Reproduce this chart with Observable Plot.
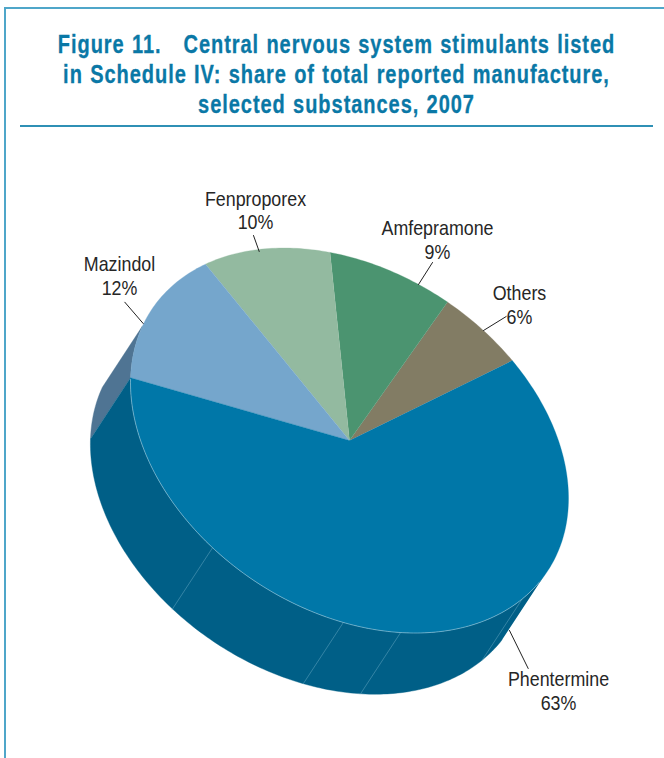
<!DOCTYPE html>
<html>
<head>
<meta charset="utf-8">
<script src="https://cdn.jsdelivr.net/npm/d3@7"></script>
<script src="https://cdn.jsdelivr.net/npm/@observablehq/plot@0.6"></script>
<style>
  html, body { margin: 0; padding: 0; background: #fff; overflow: hidden; }
  #page { position: relative; width: 664px; height: 758px; overflow: hidden; }
  #frame { position: absolute; left: 4px; top: 7px; right: 0; bottom: 0;
           border-left: 2px solid #4fa6c9; border-top: 2px solid #4fa6c9; box-sizing: border-box; }
  #head { position: absolute; left: 20px; top: 0; width: 633px; height: 127px;
          border-bottom: 2px solid #2f90b5; box-sizing: border-box; }
  #title { position: absolute; left: -60px; right: -60px; top: 28.5px; text-align: center; margin: 0;
           font: bold 25px/30px "Liberation Sans", sans-serif;
           letter-spacing: 1.2px; word-spacing: 1px; color: #0a78a6; white-space: nowrap;
           -webkit-text-stroke: 0.3px #0a78a6;
           transform: scaleX(0.8); transform-origin: 50% 50%; }
  #chart { position: absolute; left: 0; top: 128px; }
  #chart svg { display: block; }
</style>
</head>
<body>
<div id="page">
  <div id="frame"></div>
  <div id="head"><h1 id="title">Figure 11.&nbsp;&nbsp; Central nervous system stimulants listed<br>in Schedule IV: share of total reported manufacture,<br>selected substances, 2007</h1></div>
  <div id="chart"></div>
</div>
<script>
// Categories, going round the disc from the Others/Phentermine edge
const names = ["Others", "Amfepramone", "Fenproporex", "Mazindol", "Phentermine"];
// Printed shares (labels)
const labelShares = [6, 9, 10, 12, 63];
// Slice sizes as measured on the drawing (the 3-D projection widens Mazindol)
const drawnShares = [5.95, 8.8, 10, 13.15, 62.1];
const topColors = ["#827c64", "#4b9470", "#93baa0", "#75a6cc", "#0077a8"];
const wallColors = ["#6b664f", "#3a7a5b", "#7a9e87", "#4f7493", "#005f87"];
// Angles of the faint seams on the wall (degrees round the disc)
const seamAngles = [128.7, 91.6, 76.5, 37.9];

// Projection of the tilted disc into unit coordinates
const startAngle = -42, tiltC = 0.3, tiltS = 0.954, wallX = -0.183, wallY = 0.318;
// Stretch of the disc edge whose wall faces the viewer
const frontFrom = 28.4, frontTo = 199;
const rim = (deg, k = 0) => {
  const a = deg * Math.PI / 180;
  return {px: Math.cos(a) + k * wallX, py: tiltC * Math.cos(a) + tiltS * Math.sin(a) + k * wallY};
};
let cum = startAngle;
const slices = names.map((name, i) => {
  const a0 = cum; cum -= drawnShares[i] * 3.6;
  return {name, a0, a1: cum, i};
});
const arc = (a0, a1, k) => {
  const n = Math.max(2, Math.ceil(Math.abs(a1 - a0)));
  return d3.range(n + 1).map(j => rim(a0 + (a1 - a0) * j / n, k));
};
const topPts = slices.flatMap(s => [{px: 0, py: 0}, ...arc(s.a0, s.a1, 0)]
  .map(p => ({...p, key: s.name})));
// The wall of each slice, limited to the front-facing stretch of the edge
const wallPts = slices.flatMap(s => {
  const lo = Math.max(s.a1 + 360, frontFrom), hi = Math.min(s.a0 + 360, frontTo);
  if (lo >= hi) return [];
  return [...arc(lo, hi, 0), ...arc(hi, lo, 1)].map(p => ({...p, key: s.name + " wall"}));
});
const seams = seamAngles.flatMap(a => [0, 1].map(k => ({...rim(a, k), a})));
const rimEdge = arc(181, 30, 0);

// Labels: text centre and leader line, in disc units
const U = (x, y) => ({px: (x - 349) / 219, py: (y - 440) / 192.5});
const labelPlace = {
  Fenproporex: {t: U(255, 209.5), l: [U(253, 235), U(258.7, 251)]},
  Mazindol:    {t: U(119, 275), l: [U(124.3, 301.7), U(142.7, 323)]},
  Amfepramone: {t: U(437, 239), l: [U(432, 262), U(418, 284)]},
  Others:      {t: U(519, 304), l: [U(505.7, 316), U(483, 330)]},
  Phentermine: {t: U(558, 690), l: [U(509, 630), U(527.7, 668)]}
};
const labels = names.map((n, i) => ({...labelPlace[n].t, text: `${n}\n${labelShares[i]}%`}));
const leaders = names.flatMap(n => labelPlace[n].l.map(p => ({...p, key: n})));

const chart = Plot.plot({
  width: 664, height: 630,
  margin: 0,
  x: {domain: [-1, 1], range: [130, 568], axis: null},
  y: {domain: [-1, 1], range: [119.5, 504.5], axis: null},
  color: {
    domain: [...names, ...names.map(n => n + " wall")],
    range: [...topColors, ...wallColors]
  },
  marks: [
    Plot.line(wallPts, {x: "px", y: "py", z: "key", fill: "key", stroke: "key", strokeWidth: 0.4}),
    Plot.line(seams, {x: "px", y: "py", z: "a", stroke: "#4a93b2", strokeWidth: 0.7}),
    Plot.line(topPts, {x: "px", y: "py", z: "key", fill: "key", stroke: "key", strokeWidth: 0.3}),
    Plot.line(rimEdge, {x: "px", y: "py", stroke: "#9fcbdd", strokeWidth: 0.6}),
    Plot.line(leaders, {x: "px", y: "py", z: "key", stroke: "#222", strokeWidth: 1}),
    Plot.text(labels, {
      x: "px", y: "py", text: "text",
      fontFamily: '"Liberation Sans", sans-serif',
      fontSize: 21, lineHeight: 1.12, fill: "#262626",
      className: "pie-label"
    })
  ]
});
// No narrow face is installed: condense the label glyphs horizontally
chart.querySelectorAll(".pie-label text").forEach(t => {
  t.setAttribute("transform", (t.getAttribute("transform") || "") + " scale(0.85,1)");
});
document.getElementById("chart").appendChild(chart);
</script>
</body>
</html>
